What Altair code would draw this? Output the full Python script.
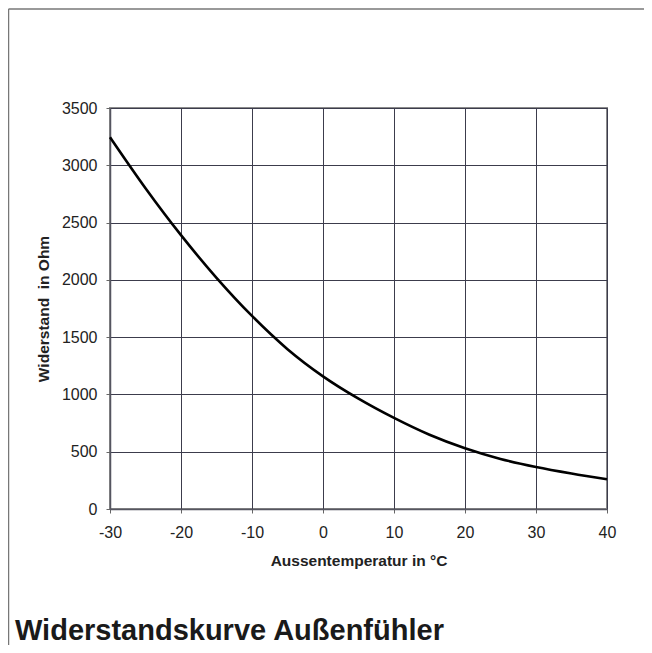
import altair as alt
import pandas as pd

temps = [-30, -25, -20, -15, -10, -5, 0, 5, 10, 15, 20, 25, 30, 35, 40]
ohms = [3245, 2800, 2390, 2018, 1685, 1395, 1158, 963, 795, 648, 530, 437, 367, 310, 260]
x_ticks = [-30, -20, -10, 0, 10, 20, 30, 40]
y_ticks = [0, 500, 1000, 1500, 2000, 2500, 3000, 3500]
title_text = ["Widerstandskurve Außenfühler"]

df = pd.DataFrame({"t": temps, "r": ohms})
tdf = pd.DataFrame({"label": title_text})

W, H = 497, 401
FONT = "Liberation Sans"

x = alt.X("t:Q", scale=alt.Scale(domain=[-30, 40], nice=False, zero=False),
          axis=alt.Axis(values=x_ticks, title="Aussentemperatur in °C",
                        labelExpr="'' + datum.value",
                        labelBaseline="alphabetic", labelPadding=24,
                        titleX=W / 2, titleY=56, titleAlign="center",
                        titleBaseline="alphabetic", labelFlush=False))
y = alt.Y("r:Q", scale=alt.Scale(domain=[0, 3500], nice=False),
          axis=alt.Axis(values=y_ticks, title="Widerstand \u00a0in Ohm",
                        labelExpr="'' + datum.value",
                        labelPadding=9, titleAngle=270, titleX=-62, titleY=H / 2,
                        titleAlign="center", titleBaseline="alphabetic",
                        labelFlush=False))

line = alt.Chart(df).mark_line(color="black", strokeWidth=2.6, interpolate="monotone").encode(x=x, y=y)

title = alt.Chart(tdf).mark_text(
    align="left", baseline="alphabetic", fontSize=29, fontWeight="bold",
    font=FONT, color="#1a1a1a"
).encode(x=alt.value(-95), y=alt.value(532), text="label:N")

border_top = alt.Chart(tdf).mark_rule(color="#777777", strokeWidth=1.5).encode(
    x=alt.value(-101.5), x2=alt.value(540), y=alt.value(-99))
border_left = alt.Chart(tdf).mark_rule(color="#777777", strokeWidth=1.5).encode(
    x=alt.value(-101.5), y=alt.value(-99), y2=alt.value(540))

chart = alt.layer(line, title, border_top, border_left).properties(
    width=W, height=H,
    autosize=alt.AutoSizeParams(type="none"),
    padding={"left": 102, "top": 100, "right": 37, "bottom": 136},
).configure_view(
    stroke="#8a8a8a", strokeWidth=2
).configure_axis(
    grid=True, gridColor="#3c3c4c", gridWidth=1, gridOpacity=1,
    domainColor="#555560", domainWidth=1.5,
    tickColor="#666666", tickSize=4, tickWidth=1,
    labelFont=FONT, labelFontSize=16, labelColor="#222222",
    titleFont=FONT, titleFontSize=15.5, titleFontWeight="bold", titleColor="#222222",
)

chart.save("out.html", embed_options={"renderer": "svg", "actions": False})
